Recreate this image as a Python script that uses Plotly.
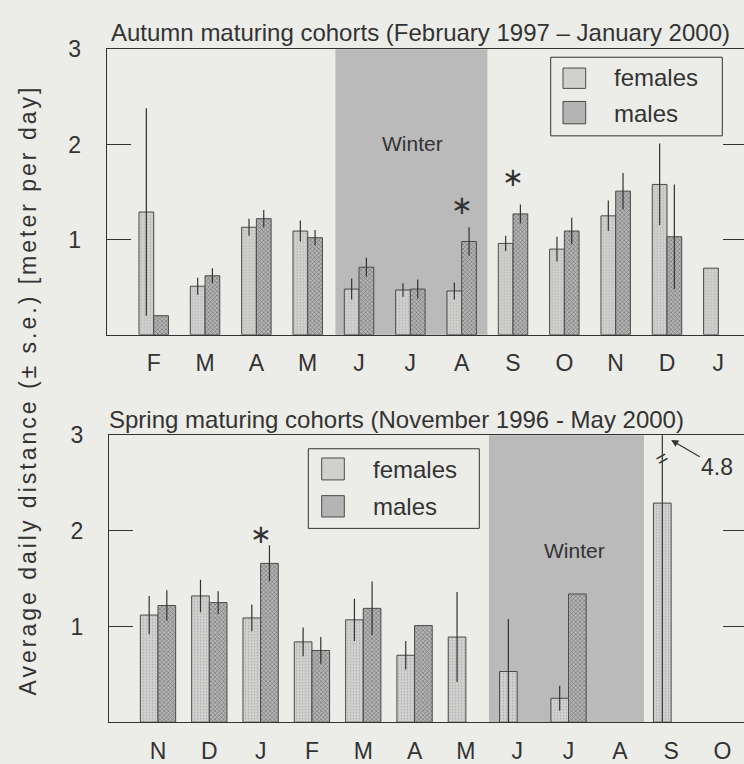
import plotly.graph_objects as go

W, H = 744, 764

# ---------------- data ----------------
months_top = ["F", "M", "A", "M", "J", "J", "A", "S", "O", "N", "D", "J"]
months_bot = ["N", "D", "J", "F", "M", "A", "M", "J", "J", "A", "S", "O"]

fem_top = [1.29, 0.51, 1.13, 1.09, 0.48, 0.47, 0.46, 0.96, 0.90, 1.25, 1.58, 0.70]
fem_top_se = [1.09, 0.09, 0.09, 0.11, 0.11, 0.07, 0.09, 0.08, 0.13, 0.16, 0.43, 0.0]
mal_top = [0.20, 0.62, 1.22, 1.02, 0.71, 0.48, 0.98, 1.27, 1.09, 1.51, 1.03, None]
mal_top_se = [0.0, 0.08, 0.09, 0.08, 0.10, 0.10, 0.15, 0.10, 0.14, 0.19, 0.55, 0.0]

fem_bot = [1.12, 1.32, 1.09, 0.84, 1.07, 0.70, 0.89, 0.53, 0.25, None, 2.29, None]
fem_bot_se = [0.20, 0.17, 0.14, 0.15, 0.22, 0.15, 0.47, 0.55, 0.13, 0.0, 2.51, 0.0]
mal_bot = [1.22, 1.25, 1.66, 0.75, 1.19, 1.01, None, None, 1.34, None, None, None]
mal_bot_se = [0.16, 0.12, 0.19, 0.14, 0.28, 0.0, 0.0, 0.0, 0.0, 0.0, 0.0, 0.0]

sig_top_x = [6, 7]
sig_top_y = [1.36, 1.66]
sig_bot_x = [2]
sig_bot_y = [1.97]

winter_top = [3.54, 6.50]
winter_bot = [6.45, 9.47]

series_names = ["females", "males"]
y_ticks = [1, 2, 3]

title_top = "Autumn maturing cohorts (February 1997 \u2013 January 2000)"
title_bot = "Spring maturing cohorts (November 1996 - May 2000)"
y_title = "Average daily distance (\u00b1 s.e.) [meter per day]"

# ---------------- styles ----------------
BG = "#ecece8"
INK = "#333333"
FONT = "Liberation Sans, Arial, sans-serif"
FEM_BG, FEM_FG = "#d0d0cf", "#a8a8a8"
MAL_BG, MAL_FG = "#b4b4b4", "#707070"
WINTER = "#bababa"

def px_x(p):
    return p / W

def px_y(p):
    return 1 - p / H

xs = list(range(12))

fig = go.Figure()

def add_bars(fem, fem_se, mal, mal_se, xa, ya, bw):
    fig.add_trace(go.Bar(
        x=xs, y=fem, name=series_names[0], xaxis=xa, yaxis=ya, width=bw, offset=-bw,
        marker=dict(color=FEM_BG, line=dict(color="#4a4a4a", width=1),
                    pattern=dict(shape=".", fgcolor=FEM_FG, bgcolor=FEM_BG,
                                 size=3, solidity=0.15, fillmode="replace")),
        error_y=dict(type="data", array=fem_se, symmetric=True, width=0,
                     thickness=1.2, color=INK),
        showlegend=False))
    fig.add_trace(go.Bar(
        x=xs, y=mal, name=series_names[1], xaxis=xa, yaxis=ya, width=bw, offset=0.0,
        marker=dict(color=MAL_BG, line=dict(color="#4a4a4a", width=1),
                    pattern=dict(shape="x", fgcolor=MAL_FG, bgcolor=MAL_BG,
                                 size=3, solidity=0.35, fillmode="replace")),
        error_y=dict(type="data", array=mal_se, symmetric=True, width=0,
                     thickness=1.2, color=INK),
        showlegend=False))

add_bars(fem_top, fem_top_se, mal_top, mal_top_se, "x", "y", 0.287)
add_bars(fem_bot, fem_bot_se, mal_bot, mal_bot_se, "x2", "y2", 0.344)

# dummy traces so the right-hand tick axes are drawn
fig.add_trace(go.Scatter(x=[None], y=[None], xaxis="x", yaxis="y3", showlegend=False))
fig.add_trace(go.Scatter(x=[None], y=[None], xaxis="x2", yaxis="y4", showlegend=False))

top_dom = [px_y(327.3), px_y(37)]
bot_dom = [px_y(721.5), px_y(429.5)]

xcommon = dict(showline=True, mirror=True, linecolor=INK, linewidth=1, ticks="",
               showgrid=False, zeroline=False, tickvals=xs,
               tickfont=dict(size=23, color=INK, family=FONT), ticklabelstandoff=8)
ycommon = dict(range=[0, 3], tickvals=y_ticks, showline=True, linecolor=INK, linewidth=1,
               ticks="inside", ticklen=24, tickcolor=INK, tickwidth=1,
               showgrid=False, zeroline=False,
               tickfont=dict(size=23, color=INK, family=FONT), ticklabelstandoff=20)
yright = dict(range=[0, 3], tickvals=y_ticks[:2], side="right", ticks="inside",
              ticklen=21, tickcolor=INK, tickwidth=1, showticklabels=False,
              showline=False, showgrid=False, zeroline=False)

fig.update_layout(
    width=W, height=H, margin=dict(l=0, r=0, t=0, b=0),
    paper_bgcolor=BG, plot_bgcolor=BG,
    font=dict(family=FONT, color=INK),
    barmode="overlay", showlegend=False,
    xaxis=dict(domain=[px_x(106.7), 1], range=[-0.916, 11.50], anchor="y",
               ticktext=months_top, **xcommon),
    yaxis=dict(domain=top_dom, anchor="x", **ycommon),
    yaxis3=dict(overlaying="y", anchor="x", **yright),
    xaxis2=dict(domain=[px_x(109), 1], range=[-0.955, 11.42], anchor="y2",
                ticktext=months_bot, **xcommon),
    yaxis2=dict(domain=bot_dom, anchor="x2", **ycommon),
    yaxis4=dict(overlaying="y2", anchor="x2", **yright),
)

shapes = []
# winter shading
shapes.append(dict(type="rect", xref="x", yref="y domain", x0=winter_top[0], x1=winter_top[1],
                   y0=0, y1=1, fillcolor=WINTER, line=dict(width=0), layer="below"))
shapes.append(dict(type="rect", xref="x2", yref="y2 domain", x0=winter_bot[0], x1=winter_bot[1],
                   y0=0, y1=1, fillcolor=WINTER, line=dict(width=0), layer="below"))

annotations = []

# legends (manual, drawn from series names)
def legend(box, sq_x, sq_rows, txt_x, txt_rows):
    shapes.append(dict(type="rect", xref="paper", yref="paper",
                       x0=px_x(box[0]), x1=px_x(box[1]), y0=px_y(box[3]), y1=px_y(box[2]),
                       fillcolor=BG, line=dict(color=INK, width=1)))
    cols = [FEM_BG, MAL_BG]
    for i, name in enumerate(series_names):
        shapes.append(dict(type="rect", xref="paper", yref="paper",
                           x0=px_x(sq_x[0]), x1=px_x(sq_x[1]),
                           y0=px_y(sq_rows[i][1]), y1=px_y(sq_rows[i][0]),
                           fillcolor=cols[i], line=dict(color="#4a4a4a", width=1)))
        annotations.append(dict(text=name, xref="paper", yref="paper",
                                x=px_x(txt_x), y=px_y(txt_rows[i]), xanchor="left",
                                yanchor="middle", showarrow=False,
                                font=dict(size=24, color=INK, family=FONT)))

legend((550.7, 722.3, 45, 125), (563, 585.7), [(56, 76.7), (90, 112.7)], 612, [66, 102])
legend((308.3, 479.3, 443.3, 524.3), (321.7, 344.3), [(452.7, 475), (491, 512.7)], 371, [464, 502])

# titles
annotations.append(dict(text=title_top, xref="paper", yref="paper", x=px_x(109), y=px_y(20),
                        xanchor="left", yanchor="middle", showarrow=False,
                        font=dict(size=24, color=INK, family=FONT)))
annotations.append(dict(text=title_bot, xref="paper", yref="paper", x=px_x(107), y=px_y(414),
                        xanchor="left", yanchor="middle", showarrow=False,
                        font=dict(size=24, color=INK, family=FONT)))
annotations.append(dict(text='<span style="letter-spacing:3px">' + y_title + '</span>',
                        xref="paper", yref="paper", x=px_x(28), y=px_y(384),
                        xanchor="center", yanchor="middle", textangle=-90, showarrow=False,
                        font=dict(size=23, color=INK, family=FONT)))

# winter labels
annotations.append(dict(text="Winter", xref="x", yref="y", x=5.05, y=2.01, showarrow=False,
                        font=dict(size=21, color=INK, family=FONT)))
annotations.append(dict(text="Winter", xref="x2", yref="y2", x=8.12, y=1.80, showarrow=False,
                        font=dict(size=21, color=INK, family=FONT)))

# significance asterisks
for sx, sy in zip(sig_top_x, sig_top_y):
    annotations.append(dict(text="\u2217", xref="x", yref="y", x=sx, y=sy, showarrow=False,
                            font=dict(size=26, color=INK, family="DejaVu Sans")))
for sx, sy in zip(sig_bot_x, sig_bot_y):
    annotations.append(dict(text="\u2217", xref="x2", yref="y2", x=sx, y=sy, showarrow=False,
                            font=dict(size=26, color=INK, family="DejaVu Sans")))

# truncated error bar: break mark and value label
k = 10
top_val = fem_bot[k] + fem_bot_se[k]
annotations.append(dict(text="=", xref="x2", yref="y2", x=k - 0.172, y=2.76, showarrow=False,
                        textangle=-30, font=dict(size=20, color=INK, family=FONT)))
annotations.append(dict(text=f"{top_val:.1f}", xref="x2", yref="y2", x=k, y=2.95,
                        ax=46, ay=27, showarrow=True, arrowhead=2, arrowsize=1.2,
                        arrowwidth=1.2, arrowcolor=INK,
                        font=dict(size=23, color=INK, family=FONT)))

fig.update_layout(shapes=shapes, annotations=annotations)
fig.write_html(
    "out.html",
    config={"displayModeBar": False},
    post_script=("document.body.style.margin='0';document.body.style.padding='0';"
                 "document.body.style.overflow='hidden';"
                 "document.documentElement.style.overflow='hidden';"),
)
